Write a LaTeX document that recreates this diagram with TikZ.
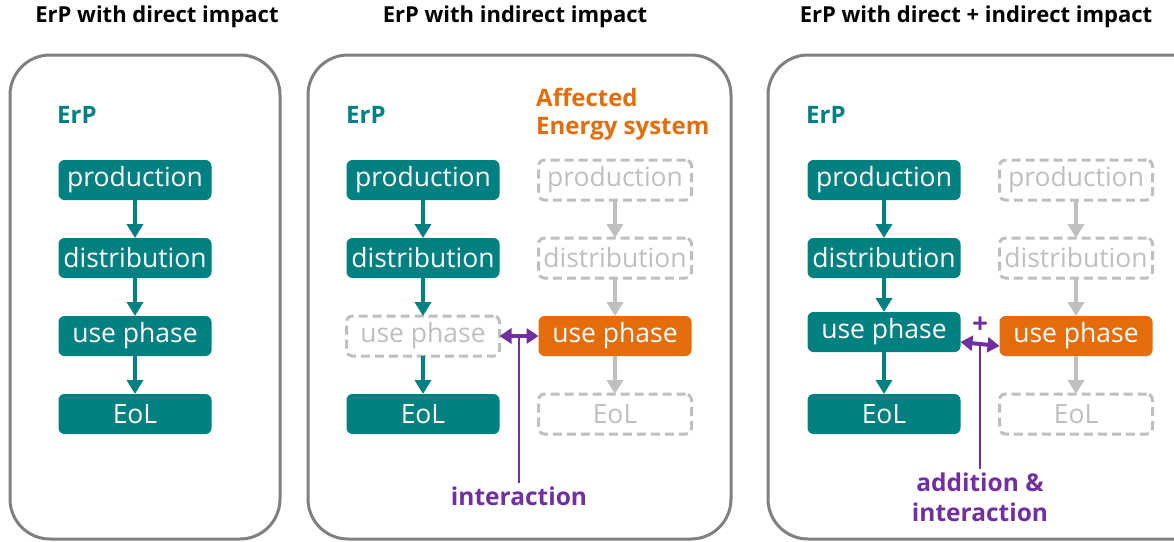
\documentclass[tikz,border=0pt]{standalone}
\usepackage{fontspec}
\setmainfont{Open Sans}
\usetikzlibrary{positioning, arrows.meta}
\definecolor{erpteal}{RGB}{0,128,128}
\definecolor{energyorange}{RGB}{228,108,10}
\definecolor{ghostgray}{RGB}{191,191,191}
\definecolor{linkpurple}{RGB}{112,48,160}
\definecolor{framegray}{RGB}{128,128,128}

\tikzset{
    headline/.style={font=\bfseries\fontsize{22}{26}\selectfont, text=black},
    erplabel/.style={anchor=west, font=\bfseries\fontsize{24}{28}\selectfont, text=erpteal, inner sep=0pt},
    stagebox/.style={fill=erpteal, text=white, rounded corners=6pt, minimum width=153pt,
        minimum height=40pt, inner sep=0pt, outer sep=0pt, font=\fontsize{26.5}{30}\selectfont},
    energybox/.style={stagebox, fill=energyorange},
    ghostbox/.style={stagebox, fill=none, draw=ghostgray, text=ghostgray, line width=3pt,
        dash pattern=on 9pt off 5pt},
    flowarrow/.style={-{Triangle[length=14pt, width=16pt]}, line width=4pt, erpteal},
    ghostarrow/.style={flowarrow, ghostgray},
    linkarrow/.style={{Triangle[length=12pt, width=15pt]}-{Triangle[length=12pt, width=15pt]},
        line width=4pt, linkpurple},
    linklabel/.style={font=\bfseries\fontsize{24.5}{30}\selectfont, text=linkpurple, align=center},
    panel/.style={draw=framegray, line width=3pt, rounded corners=40pt}
}

\begin{document}
\begin{tikzpicture}[x=1pt, y=-1pt]
    \clip (0,0) rectangle (1174,541);

    % Titles
    \node[headline] (titleA) at (157,17) {ErP with direct impact};
    \node[headline] (titleB) at (515,17) {ErP with indirect impact};
    \node[headline] (titleC) at (976,17) {ErP with direct + indirect impact};

    % Panel frames
    \draw[panel] (10,55) rectangle (280,539);
    \draw[panel] (308,55) rectangle (731,539);
    \draw[panel] (768,55) rectangle (1215,539);

    % Panel 1: direct impact
    \node[erplabel] (erpA) at (57,115) {ErP};
    \node[stagebox] (prodA) at (135,180) {production};
    \node[stagebox, below=38pt of prodA] (distA) {distribution};
    \node[stagebox, below=38pt of distA] (useA) {use phase};
    \node[stagebox, below=38pt of useA] (eolA) {EoL};
    \draw[flowarrow] (prodA) -- (distA);
    \draw[flowarrow] (distA) -- (useA);
    \draw[flowarrow] (useA) -- (eolA);

    % Panel 2: indirect impact
    \node[erplabel] (erpB) at (346,115) {ErP};
    \node[erplabel, text=energyorange, align=left, font=\bfseries\fontsize{24}{28}\selectfont]
        (energyB) at (536,114) {Affected\\Energy system};
    \node[stagebox] (prodB) at (423,180) {production};
    \node[stagebox, below=38pt of prodB] (distB) {distribution};
    \node[ghostbox, below=38pt of distB] (useB) {use phase};
    \node[stagebox, below=38pt of useB] (eolB) {EoL};
    \draw[flowarrow] (prodB) -- (distB);
    \draw[flowarrow] (distB) -- (useB);
    \draw[flowarrow] (useB) -- (eolB);

    \node[ghostbox] (prodE) at (615,180) {production};
    \node[ghostbox, below=38pt of prodE] (distE) {distribution};
    \node[energybox, below=38pt of distE] (useE) {use phase};
    \node[ghostbox, below=38pt of useE] (eolE) {EoL};
    \draw[ghostarrow] (prodE) -- (distE);
    \draw[ghostarrow] (distE) -- (useE);
    \draw[ghostarrow] (useE) -- (eolE);

    \draw[linkarrow] (useB) -- coordinate (linkB) (useE);
    \node[linklabel] (interB) at (519,496) {interaction};
    \draw[linkpurple, line width=1.5pt] (linkB) -- (interB.north);

    % Panel 3: direct + indirect impact
    \node[erplabel] (erpC) at (806,115) {ErP};
    \node[stagebox] (prodC) at (884,180) {production};
    \node[stagebox, below=38pt of prodC] (distC) {distribution};
    \node[stagebox, below=34pt of distC] (useC) {use phase};
    \node[stagebox, below=42pt of useC] (eolC) {EoL};
    \draw[flowarrow] (prodC) -- (distC);
    \draw[flowarrow] (distC) -- (useC);
    \draw[flowarrow] (useC) -- (eolC);

    \node[ghostbox] (prodF) at (1076,180) {production};
    \node[ghostbox, below=38pt of prodF] (distF) {distribution};
    \node[energybox, below=38pt of distF] (useF) {use phase};
    \node[ghostbox, below=38pt of useF] (eolF) {EoL};
    \draw[ghostarrow] (prodF) -- (distF);
    \draw[ghostarrow] (distF) -- (useF);
    \draw[ghostarrow] (useF) -- (eolF);

    \draw[linkarrow] ([yshift=-10pt]useC.east) -- coordinate (linkC) ([yshift=-10pt]useF.west);
    \node[linklabel, font=\bfseries\fontsize{28}{30}\selectfont] (plusC) at (980,325) {+};
    \node[linklabel] (interC) at (980,497) {addition \&\\interaction};
    \draw[linkpurple, line width=1.5pt] (linkC) -- (interC.north);
\end{tikzpicture}
\end{document}
